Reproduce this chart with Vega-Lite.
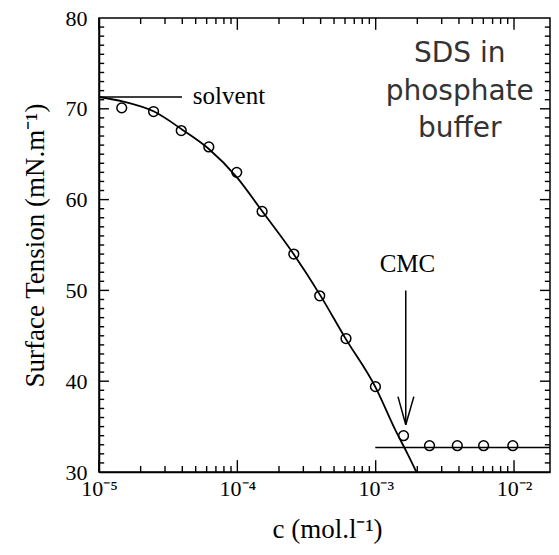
{
  "$schema": "https://vega.github.io/schema/vega-lite/v6.json",
  "width": 451,
  "height": 454,
  "autosize": "none",
  "padding": {"left": 99, "top": 18, "right": 9, "bottom": 83},
  "background": "white",
  "config": {
    "view": {"stroke": "black", "strokeWidth": 1.5},
    "axis": {
      "grid": false,
      "ticks": false,
      "domainColor": "black",
      "domainWidth": 1.5,
      "labelColor": "black",
      "titleColor": "black",
      "labelFont": "Liberation Serif",
      "titleFont": "Liberation Serif",
      "labelFontSize": 22,
      "titleFontSize": 27,
      "titleFontWeight": "normal",
      "labelOverlap": false,
      "labelFlush": false,
      "labelBound": false
    }
  },
  "datasets": {
    "curve": [
      {"c": 0.00001, "st": 71.3},
      {"c": 0.000015, "st": 70.8},
      {"c": 0.000025, "st": 69.7},
      {"c": 0.00004, "st": 67.7},
      {"c": 0.000062, "st": 65.6},
      {"c": 0.0001, "st": 62.4},
      {"c": 0.00015, "st": 58.8},
      {"c": 0.00025, "st": 54.2},
      {"c": 0.0004, "st": 49.4},
      {"c": 0.0006, "st": 44.8},
      {"c": 0.001, "st": 39.3},
      {"c": 0.0014, "st": 34.5},
      {"c": 0.0017, "st": 32.0},
      {"c": 0.00197, "st": 30.0}
    ],
    "points": [
      {"c": 0.0000146, "st": 70.1},
      {"c": 0.0000248, "st": 69.7},
      {"c": 0.0000393, "st": 67.6},
      {"c": 0.0000622, "st": 65.8},
      {"c": 0.000099, "st": 63.0},
      {"c": 0.000151, "st": 58.7},
      {"c": 0.000256, "st": 54.0},
      {"c": 0.000394, "st": 49.4},
      {"c": 0.00061, "st": 44.7},
      {"c": 0.000996, "st": 39.4},
      {"c": 0.00159, "st": 34.0},
      {"c": 0.00245, "st": 32.9},
      {"c": 0.00389, "st": 32.9},
      {"c": 0.00603, "st": 32.9},
      {"c": 0.0098, "st": 32.9}
    ],
    "rules": [
      {"c": 0.00001, "c2": 0.0000398, "st": 71.3, "st2": 71.3},
      {"c": 0.000993, "c2": 0.0182, "st": 32.7, "st2": 32.7},
      {"c": 0.00165, "c2": 0.00165, "st": 50.0, "st2": 35.2},
      {"c": 0.001449, "c2": 0.00165, "st": 38.3, "st2": 35.2},
      {"c": 0.001888, "c2": 0.00165, "st": 38.3, "st2": 35.2}
    ],
    "ticks": [
      {"c": 0.00001, "c2": 0.00001, "st": 30, "st2": 31.3}, {"c": 0.0001, "c2": 0.0001, "st": 30, "st2": 31.3}, {"c": 0.001, "c2": 0.001, "st": 30, "st2": 31.3}, {"c": 0.01, "c2": 0.01, "st": 30, "st2": 31.3},
      {"c": 0.00001, "c2": 0.00001, "st": 80, "st2": 78.7}, {"c": 0.0001, "c2": 0.0001, "st": 80, "st2": 78.7}, {"c": 0.001, "c2": 0.001, "st": 80, "st2": 78.7}, {"c": 0.01, "c2": 0.01, "st": 80, "st2": 78.7},
      {"c": 0.00002, "c2": 0.00002, "st": 30, "st2": 30.66}, {"c": 0.00003, "c2": 0.00003, "st": 30, "st2": 30.66}, {"c": 0.00004, "c2": 0.00004, "st": 30, "st2": 30.66}, {"c": 0.00005, "c2": 0.00005, "st": 30, "st2": 30.66}, {"c": 0.00006, "c2": 0.00006, "st": 30, "st2": 30.66}, {"c": 0.00007, "c2": 0.00007, "st": 30, "st2": 30.66}, {"c": 0.00008, "c2": 0.00008, "st": 30, "st2": 30.66}, {"c": 0.00009, "c2": 0.00009, "st": 30, "st2": 30.66},
      {"c": 0.0002, "c2": 0.0002, "st": 30, "st2": 30.66}, {"c": 0.0003, "c2": 0.0003, "st": 30, "st2": 30.66}, {"c": 0.0004, "c2": 0.0004, "st": 30, "st2": 30.66}, {"c": 0.0005, "c2": 0.0005, "st": 30, "st2": 30.66}, {"c": 0.0006, "c2": 0.0006, "st": 30, "st2": 30.66}, {"c": 0.0007, "c2": 0.0007, "st": 30, "st2": 30.66}, {"c": 0.0008, "c2": 0.0008, "st": 30, "st2": 30.66}, {"c": 0.0009, "c2": 0.0009, "st": 30, "st2": 30.66},
      {"c": 0.002, "c2": 0.002, "st": 30, "st2": 30.66}, {"c": 0.003, "c2": 0.003, "st": 30, "st2": 30.66}, {"c": 0.004, "c2": 0.004, "st": 30, "st2": 30.66}, {"c": 0.005, "c2": 0.005, "st": 30, "st2": 30.66}, {"c": 0.006, "c2": 0.006, "st": 30, "st2": 30.66}, {"c": 0.007, "c2": 0.007, "st": 30, "st2": 30.66}, {"c": 0.008, "c2": 0.008, "st": 30, "st2": 30.66}, {"c": 0.009, "c2": 0.009, "st": 30, "st2": 30.66},
      {"c": 0.00002, "c2": 0.00002, "st": 80, "st2": 79.34}, {"c": 0.00003, "c2": 0.00003, "st": 80, "st2": 79.34}, {"c": 0.00004, "c2": 0.00004, "st": 80, "st2": 79.34}, {"c": 0.00005, "c2": 0.00005, "st": 80, "st2": 79.34}, {"c": 0.00006, "c2": 0.00006, "st": 80, "st2": 79.34}, {"c": 0.00007, "c2": 0.00007, "st": 80, "st2": 79.34}, {"c": 0.00008, "c2": 0.00008, "st": 80, "st2": 79.34}, {"c": 0.00009, "c2": 0.00009, "st": 80, "st2": 79.34},
      {"c": 0.0002, "c2": 0.0002, "st": 80, "st2": 79.34}, {"c": 0.0003, "c2": 0.0003, "st": 80, "st2": 79.34}, {"c": 0.0004, "c2": 0.0004, "st": 80, "st2": 79.34}, {"c": 0.0005, "c2": 0.0005, "st": 80, "st2": 79.34}, {"c": 0.0006, "c2": 0.0006, "st": 80, "st2": 79.34}, {"c": 0.0007, "c2": 0.0007, "st": 80, "st2": 79.34}, {"c": 0.0008, "c2": 0.0008, "st": 80, "st2": 79.34}, {"c": 0.0009, "c2": 0.0009, "st": 80, "st2": 79.34},
      {"c": 0.002, "c2": 0.002, "st": 80, "st2": 79.34}, {"c": 0.003, "c2": 0.003, "st": 80, "st2": 79.34}, {"c": 0.004, "c2": 0.004, "st": 80, "st2": 79.34}, {"c": 0.005, "c2": 0.005, "st": 80, "st2": 79.34}, {"c": 0.006, "c2": 0.006, "st": 80, "st2": 79.34}, {"c": 0.007, "c2": 0.007, "st": 80, "st2": 79.34}, {"c": 0.008, "c2": 0.008, "st": 80, "st2": 79.34}, {"c": 0.009, "c2": 0.009, "st": 80, "st2": 79.34},
      {"c": 0.00001, "c2": 0.0000118, "st": 40, "st2": 40}, {"c": 0.00001, "c2": 0.0000118, "st": 50, "st2": 50}, {"c": 0.00001, "c2": 0.0000118, "st": 60, "st2": 60}, {"c": 0.00001, "c2": 0.0000118, "st": 70, "st2": 70},
      {"c": 0.0182, "c2": 0.0154, "st": 40, "st2": 40}, {"c": 0.0182, "c2": 0.0154, "st": 50, "st2": 50}, {"c": 0.0182, "c2": 0.0154, "st": 60, "st2": 60}, {"c": 0.0182, "c2": 0.0154, "st": 70, "st2": 70},
      {"c": 0.00001, "c2": 0.0000109, "st": 31, "st2": 31}, {"c": 0.00001, "c2": 0.0000109, "st": 32, "st2": 32}, {"c": 0.00001, "c2": 0.0000109, "st": 33, "st2": 33}, {"c": 0.00001, "c2": 0.0000109, "st": 34, "st2": 34}, {"c": 0.00001, "c2": 0.0000109, "st": 35, "st2": 35}, {"c": 0.00001, "c2": 0.0000109, "st": 36, "st2": 36}, {"c": 0.00001, "c2": 0.0000109, "st": 37, "st2": 37}, {"c": 0.00001, "c2": 0.0000109, "st": 38, "st2": 38}, {"c": 0.00001, "c2": 0.0000109, "st": 39, "st2": 39},
      {"c": 0.00001, "c2": 0.0000109, "st": 41, "st2": 41}, {"c": 0.00001, "c2": 0.0000109, "st": 42, "st2": 42}, {"c": 0.00001, "c2": 0.0000109, "st": 43, "st2": 43}, {"c": 0.00001, "c2": 0.0000109, "st": 44, "st2": 44}, {"c": 0.00001, "c2": 0.0000109, "st": 45, "st2": 45}, {"c": 0.00001, "c2": 0.0000109, "st": 46, "st2": 46}, {"c": 0.00001, "c2": 0.0000109, "st": 47, "st2": 47}, {"c": 0.00001, "c2": 0.0000109, "st": 48, "st2": 48}, {"c": 0.00001, "c2": 0.0000109, "st": 49, "st2": 49},
      {"c": 0.00001, "c2": 0.0000109, "st": 51, "st2": 51}, {"c": 0.00001, "c2": 0.0000109, "st": 52, "st2": 52}, {"c": 0.00001, "c2": 0.0000109, "st": 53, "st2": 53}, {"c": 0.00001, "c2": 0.0000109, "st": 54, "st2": 54}, {"c": 0.00001, "c2": 0.0000109, "st": 55, "st2": 55}, {"c": 0.00001, "c2": 0.0000109, "st": 56, "st2": 56}, {"c": 0.00001, "c2": 0.0000109, "st": 57, "st2": 57}, {"c": 0.00001, "c2": 0.0000109, "st": 58, "st2": 58}, {"c": 0.00001, "c2": 0.0000109, "st": 59, "st2": 59},
      {"c": 0.00001, "c2": 0.0000109, "st": 61, "st2": 61}, {"c": 0.00001, "c2": 0.0000109, "st": 62, "st2": 62}, {"c": 0.00001, "c2": 0.0000109, "st": 63, "st2": 63}, {"c": 0.00001, "c2": 0.0000109, "st": 64, "st2": 64}, {"c": 0.00001, "c2": 0.0000109, "st": 65, "st2": 65}, {"c": 0.00001, "c2": 0.0000109, "st": 66, "st2": 66}, {"c": 0.00001, "c2": 0.0000109, "st": 67, "st2": 67}, {"c": 0.00001, "c2": 0.0000109, "st": 68, "st2": 68}, {"c": 0.00001, "c2": 0.0000109, "st": 69, "st2": 69},
      {"c": 0.00001, "c2": 0.0000109, "st": 71, "st2": 71}, {"c": 0.00001, "c2": 0.0000109, "st": 72, "st2": 72}, {"c": 0.00001, "c2": 0.0000109, "st": 73, "st2": 73}, {"c": 0.00001, "c2": 0.0000109, "st": 74, "st2": 74}, {"c": 0.00001, "c2": 0.0000109, "st": 75, "st2": 75}, {"c": 0.00001, "c2": 0.0000109, "st": 76, "st2": 76}, {"c": 0.00001, "c2": 0.0000109, "st": 77, "st2": 77}, {"c": 0.00001, "c2": 0.0000109, "st": 78, "st2": 78}, {"c": 0.00001, "c2": 0.0000109, "st": 79, "st2": 79},
      {"c": 0.0182, "c2": 0.0167, "st": 31, "st2": 31}, {"c": 0.0182, "c2": 0.0167, "st": 32, "st2": 32}, {"c": 0.0182, "c2": 0.0167, "st": 33, "st2": 33}, {"c": 0.0182, "c2": 0.0167, "st": 34, "st2": 34}, {"c": 0.0182, "c2": 0.0167, "st": 35, "st2": 35}, {"c": 0.0182, "c2": 0.0167, "st": 36, "st2": 36}, {"c": 0.0182, "c2": 0.0167, "st": 37, "st2": 37}, {"c": 0.0182, "c2": 0.0167, "st": 38, "st2": 38}, {"c": 0.0182, "c2": 0.0167, "st": 39, "st2": 39},
      {"c": 0.0182, "c2": 0.0167, "st": 41, "st2": 41}, {"c": 0.0182, "c2": 0.0167, "st": 42, "st2": 42}, {"c": 0.0182, "c2": 0.0167, "st": 43, "st2": 43}, {"c": 0.0182, "c2": 0.0167, "st": 44, "st2": 44}, {"c": 0.0182, "c2": 0.0167, "st": 45, "st2": 45}, {"c": 0.0182, "c2": 0.0167, "st": 46, "st2": 46}, {"c": 0.0182, "c2": 0.0167, "st": 47, "st2": 47}, {"c": 0.0182, "c2": 0.0167, "st": 48, "st2": 48}, {"c": 0.0182, "c2": 0.0167, "st": 49, "st2": 49},
      {"c": 0.0182, "c2": 0.0167, "st": 51, "st2": 51}, {"c": 0.0182, "c2": 0.0167, "st": 52, "st2": 52}, {"c": 0.0182, "c2": 0.0167, "st": 53, "st2": 53}, {"c": 0.0182, "c2": 0.0167, "st": 54, "st2": 54}, {"c": 0.0182, "c2": 0.0167, "st": 55, "st2": 55}, {"c": 0.0182, "c2": 0.0167, "st": 56, "st2": 56}, {"c": 0.0182, "c2": 0.0167, "st": 57, "st2": 57}, {"c": 0.0182, "c2": 0.0167, "st": 58, "st2": 58}, {"c": 0.0182, "c2": 0.0167, "st": 59, "st2": 59},
      {"c": 0.0182, "c2": 0.0167, "st": 61, "st2": 61}, {"c": 0.0182, "c2": 0.0167, "st": 62, "st2": 62}, {"c": 0.0182, "c2": 0.0167, "st": 63, "st2": 63}, {"c": 0.0182, "c2": 0.0167, "st": 64, "st2": 64}, {"c": 0.0182, "c2": 0.0167, "st": 65, "st2": 65}, {"c": 0.0182, "c2": 0.0167, "st": 66, "st2": 66}, {"c": 0.0182, "c2": 0.0167, "st": 67, "st2": 67}, {"c": 0.0182, "c2": 0.0167, "st": 68, "st2": 68}, {"c": 0.0182, "c2": 0.0167, "st": 69, "st2": 69},
      {"c": 0.0182, "c2": 0.0167, "st": 71, "st2": 71}, {"c": 0.0182, "c2": 0.0167, "st": 72, "st2": 72}, {"c": 0.0182, "c2": 0.0167, "st": 73, "st2": 73}, {"c": 0.0182, "c2": 0.0167, "st": 74, "st2": 74}, {"c": 0.0182, "c2": 0.0167, "st": 75, "st2": 75}, {"c": 0.0182, "c2": 0.0167, "st": 76, "st2": 76}, {"c": 0.0182, "c2": 0.0167, "st": 77, "st2": 77}, {"c": 0.0182, "c2": 0.0167, "st": 78, "st2": 78}, {"c": 0.0182, "c2": 0.0167, "st": 79, "st2": 79}
    ],
    "labels": [
      {"c": 0.0000477, "st": 71.4, "text": "solvent"},
      {"c": 0.001069, "st": 52.9, "text": "CMC"}
    ],
    "note": [
      {"c": 0.00405, "st": 75.15, "text": "SDS in\nphosphate\nbuffer"}
    ]
  },
  "encoding": {
    "x": {
      "field": "c", "type": "quantitative",
      "scale": {"type": "log", "domain": [0.00001, 0.0182], "nice": false},
      "axis": {
        "orient": "bottom",
        "values": [0.00001, 0.0001, 0.001, 0.01],
        "labelExpr": "'10⁻' + ['⁰','¹','²','³','⁴','⁵','⁶','⁷','⁸','⁹'][-round(log(datum.value)/LN10)]",
        "labelPadding": 6,
        "labelBaseline": "top",
        "title": "c (mol.l⁻¹)",
        "titleX": 228,
        "titleY": 57,
        "titleAlign": "center",
        "titleBaseline": "middle"
      }
    },
    "y": {
      "field": "st", "type": "quantitative",
      "scale": {"domain": [30, 80], "nice": false, "zero": false},
      "axis": {
        "orient": "left",
        "values": [30, 40, 50, 60, 70, 80],
        "labelPadding": 12,
        "title": "Surface Tension (mN.m⁻¹)",
        "titleX": -64,
        "titleY": 227,
        "titleAngle": 270,
        "titleAlign": "center",
        "titleBaseline": "middle"
      }
    }
  },
  "layer": [
    {
      "data": {"name": "curve"},
      "mark": {"type": "line", "color": "black", "strokeWidth": 1.8, "interpolate": "monotone"}
    },
    {
      "data": {"name": "ticks"},
      "mark": {"type": "rule", "color": "black", "strokeWidth": 1.4},
      "encoding": {
        "x2": {"field": "c2"},
        "y2": {"field": "st2"}
      }
    },
    {
      "data": {"name": "points"},
      "mark": {"type": "point", "shape": "circle", "filled": false, "stroke": "black", "strokeWidth": 1.5, "size": 95, "opacity": 1}
    },
    {
      "data": {"name": "rules"},
      "mark": {"type": "rule", "color": "black", "strokeWidth": 1.5},
      "encoding": {
        "x2": {"field": "c2"},
        "y2": {"field": "st2"}
      }
    },
    {
      "data": {"name": "labels"},
      "mark": {"type": "text", "font": "Liberation Serif", "fontSize": 25, "color": "black", "align": "left", "baseline": "middle"},
      "encoding": {"text": {"field": "text"}}
    },
    {
      "data": {"name": "note"},
      "mark": {"type": "text", "font": "DejaVu Sans", "fontSize": 28, "color": "#333333", "align": "center", "baseline": "alphabetic", "lineBreak": "\n", "lineHeight": 37.5},
      "encoding": {"text": {"field": "text"}}
    }
  ]
}
